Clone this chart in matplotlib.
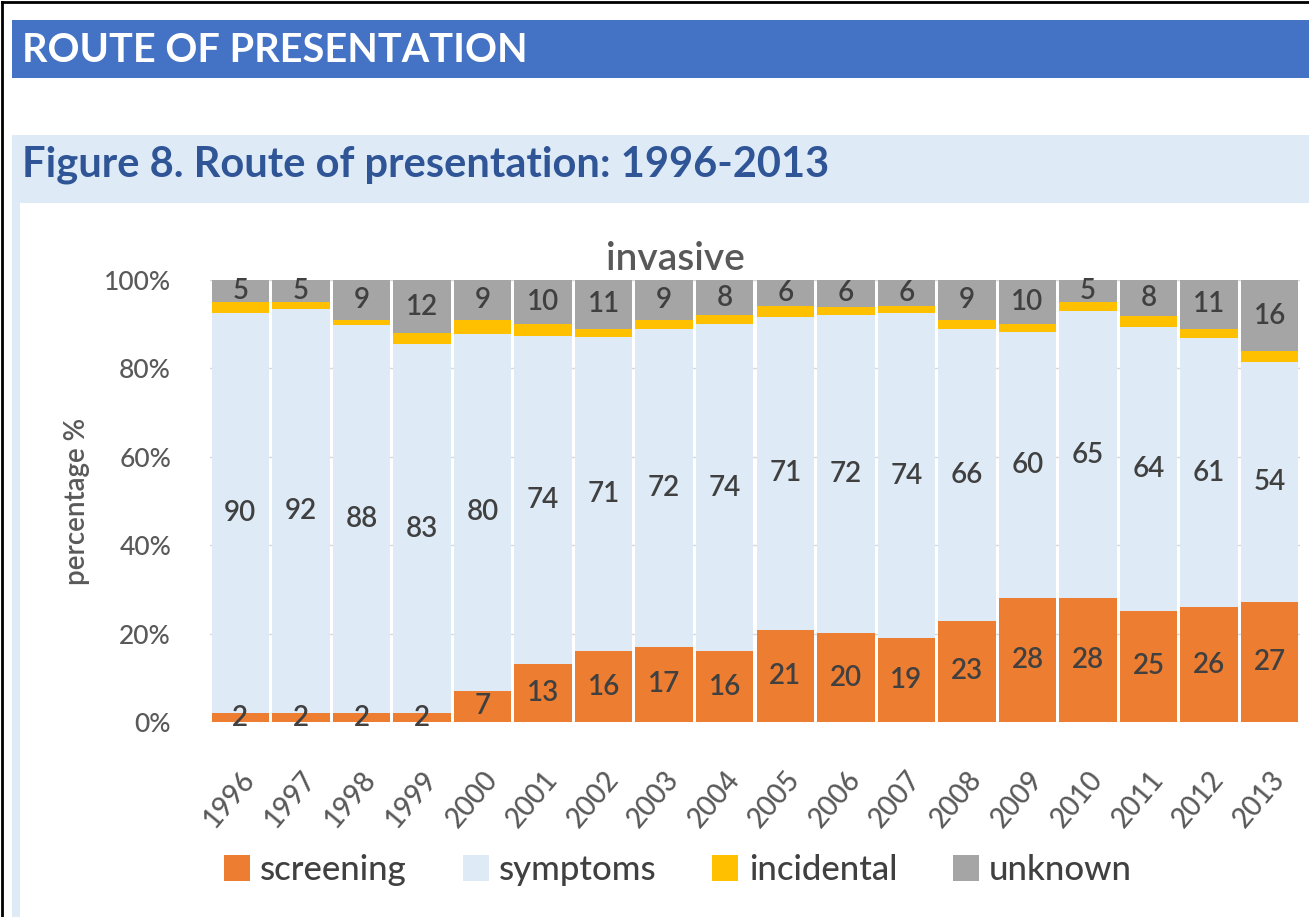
import numpy as np
import matplotlib.pyplot as plt
from matplotlib.patches import Rectangle
from matplotlib.lines import Line2D

plt.rcParams.update({'font.family': ['Lato', 'DejaVu Sans']})

years = [str(y) for y in range(1996, 2014)]
screening = [2, 2, 2, 2, 7, 13, 16, 17, 16, 21, 20, 19, 23, 28, 28, 25, 26, 27]
symptoms = [90, 92, 88, 83, 80, 74, 71, 72, 74, 71, 72, 74, 66, 60, 65, 64, 61, 54]
incidental = [2.5, 1.5, 1.3, 2.5, 3, 2.5, 2, 2, 2, 2.4, 1.8, 1.5, 2.2, 1.8, 2, 2.5, 2.2, 2.5]
unknown = [5, 5, 9, 12, 9, 10, 11, 9, 8, 6, 6, 6, 9, 10, 5, 8, 11, 16]

series = [('screening', screening, '#ED7D31', True),
          ('symptoms', symptoms, '#DEEAF6', True),
          ('incidental', incidental, '#FFC000', False),
          ('unknown', unknown, '#A5A5A5', True)]

W, H = 1309, 917
fig = plt.figure(figsize=(W / 100, H / 100), dpi=100)


def box(x0, y0, x1, y1, color):
    # pixel box (top-left origin) -> figure fraction
    fig.patches.append(Rectangle((x0 / W, 1 - y1 / H), (x1 - x0) / W, (y1 - y0) / H,
                                 transform=fig.transFigure, facecolor=color,
                                 edgecolor='none', zorder=-10))


# page decoration
box(12, 20, W, 78, '#4472C4')
box(12, 135, W, H, '#DEEAF6')
box(20, 203, W, H, 'white')
fig.lines.append(Line2D([2 / W, 2 / W], [0, 1 - 2 / H], transform=fig.transFigure,
                        color='black', lw=2, zorder=-5))
fig.lines.append(Line2D([2 / W, 1], [1 - 2 / H, 1 - 2 / H], transform=fig.transFigure,
                        color='black', lw=2, zorder=-5))

fig.text(22 / W, 1 - 51 / H, 'ROUTE OF PRESENTATION', color='white', fontsize=28.5,
         fontweight='bold', va='center', ha='left')
fig.text(22 / W, 1 - 165 / H, 'Figure 8. Route of presentation: 1996-2013', color='#2F5597',
         fontsize=30, fontweight='bold', va='center', ha='left')
fig.text(675 / W, 1 - 259 / H, 'invasive', color='#595959', fontsize=28,
         fontweight='semibold', va='center', ha='center')

ax = fig.add_axes([210 / W, 1 - 722 / H, (1300 - 210) / W, (722 - 280) / H])
ax.set_facecolor('none')

x = np.arange(len(years))
totals = np.array(screening, float) + np.array(symptoms) + np.array(incidental) + np.array(unknown)
bottom = np.zeros(len(years))
handles = []
for name, vals, color, show in series:
    pct = np.array(vals, float) / totals * 100
    bars = ax.bar(x, pct, 0.95, bottom=bottom, color=color, label=name, zorder=2)
    if show:
        ax.bar_label(bars, labels=[str(v) for v in vals], label_type='center',
                     fontsize=20, color='#404040', fontweight='semibold')
    bottom += pct
    handles.append(bars)

ax.set_xlim(-0.5, len(years) - 0.5)
ax.set_ylim(0, 100)
ax.set_yticks(range(0, 101, 20))
ax.set_yticklabels([f'{v}%' for v in range(0, 101, 20)], fontsize=19, color='#595959',
                   fontweight='medium')
ax.set_xticks(x)
ax.set_xticklabels(years, rotation=50, ha='right', rotation_mode='anchor', fontsize=20,
                   color='#595959', fontweight='medium')
ax.tick_params(length=0, axis='y', pad=28)
ax.tick_params(length=0, axis='x', pad=32)
ax.grid(axis='y', color='#D9D9D9', lw=1, zorder=0)
ax.set_axisbelow(True)
for s in ax.spines.values():
    s.set_visible(False)

ax.set_ylabel('percentage %', fontsize=20, color='#595959', labelpad=10, fontweight='semibold')

fig.legend(handles=handles, labels=[s[0] for s in series], loc='center',
           bbox_to_anchor=(678 / W, 1 - 870 / H), ncol=4, frameon=False,
           labelcolor='#404040', handlelength=0.75, handleheight=0.75,
           handletextpad=0.3, columnspacing=1.6, prop={'weight': 'medium', 'size': 25})

fig.savefig('out.png', dpi=100)
